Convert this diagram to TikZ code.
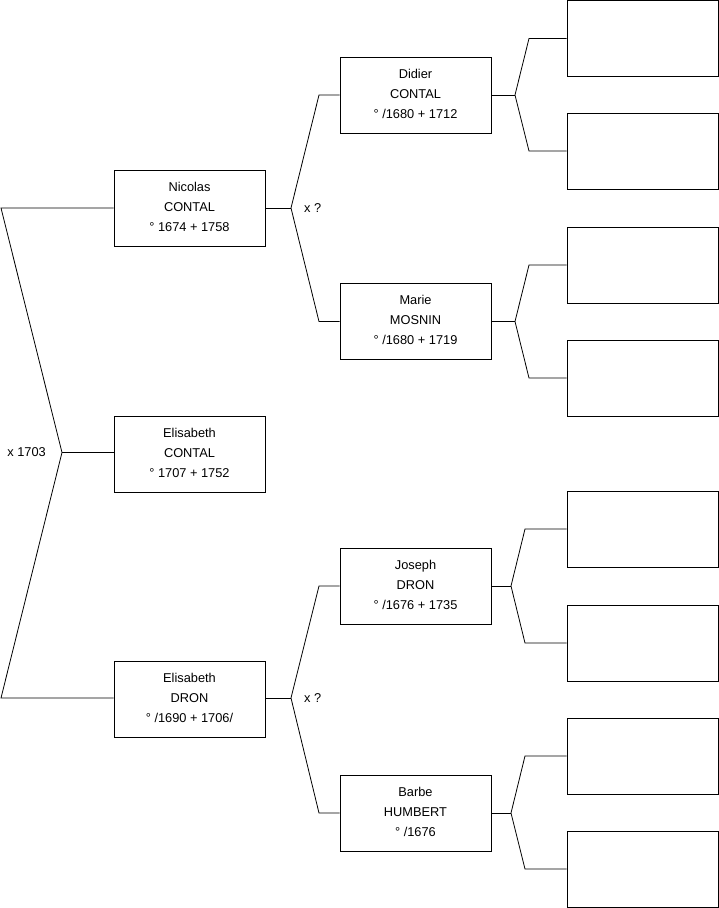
\documentclass[tikz,border=0pt]{standalone}
\usepackage{fontspec}
\setmainfont{Liberation Sans}
\begin{document}
\begin{tikzpicture}[x=1pt,y=-1pt,
  person/.style={draw, line width=0.8pt, minimum width=151pt, minimum height=76pt, inner sep=0pt, align=center, font=\fontsize{12.8}{19.7}\selectfont, execute at end node={\rule[-2.5pt]{0pt}{2.5pt}}},
  emptybox/.style={draw, line width=0.8pt, minimum width=151pt, minimum height=76pt, inner sep=0pt},
  link/.style={line width=0.8pt},
  lbl/.style={font=\fontsize{12.8}{15}\selectfont, inner sep=0pt}]
\useasboundingbox (0,0) rectangle (719,908);

% generation 1 and 2
\node[person] (nicolas) at (189.5,208) {Nicolas\\CONTAL\\° 1674 + 1758};
\node[person] (elisc) at (189.5,454) {Elisabeth\\CONTAL\\° 1707 + 1752};
\node[person] (elisd) at (189.5,699) {Elisabeth\\DRON\\° /1690 + 1706/};

% generation 3
\node[person] (didier) at (415.5,95) {Didier\\CONTAL\\° /1680 + 1712};
\node[person] (marie) at (415.5,321) {Marie\\MOSNIN\\° /1680 + 1719};
\node[person] (joseph) at (415.5,586) {Joseph\\DRON\\° /1676 + 1735};
\node[person] (barbe) at (415.5,813) {Barbe\\HUMBERT\\° /1676};

% generation 4 (empty)
\node[emptybox] (e1) at (642.5,38.5) {};
\node[emptybox] (e2) at (642.5,151) {};
\node[emptybox] (e3) at (642.5,265) {};
\node[emptybox] (e4) at (642.5,378) {};
\node[emptybox] (e5) at (642.5,529) {};
\node[emptybox] (e6) at (642.5,643) {};
\node[emptybox] (e7) at (642.5,756) {};
\node[emptybox] (e8) at (642.5,869) {};

% root bracket
\coordinate (ra) at (1,208);
\coordinate (rm) at (62,452.5);
\coordinate (rb) at (1,698);
\draw[link] (nicolas.west) -- (ra) -- (rm) -- (rb) -- (elisd.west |- rb);
\draw[link] (rm) -- (elisc.west |- rm);
\node[lbl, anchor=east] (m1) at (46,452) {x 1703};

% Nicolas bracket
\coordinate (na) at (291,208);
\coordinate (nt) at (319,95);
\coordinate (nb) at (319,321.5);
\draw[link] (nicolas.east) -- (na);
\draw[link] (didier.west) -- (nt) -- (na) -- (nb) -- (marie.west |- nb);
\node[lbl, anchor=west] (m2) at (304,208) {x ?};

% Elisabeth DRON bracket
\coordinate (da) at (291,698);
\coordinate (dt) at (319,586);
\coordinate (db) at (319,813);
\draw[link] (elisd.east |- da) -- (da);
\draw[link] (joseph.west) -- (dt) -- (da) -- (db) -- (barbe.west);
\node[lbl, anchor=west] (m3) at (304,698) {x ?};

% Didier bracket
\coordinate (ca) at (515,95);
\coordinate (ct) at (529,38.5);
\coordinate (cb) at (529,151);
\draw[link] (didier.east) -- (ca);
\draw[link] (e1.west) -- (ct) -- (ca) -- (cb) -- (e2.west);

% Marie bracket
\coordinate (ma) at (515,321.5);
\coordinate (mt) at (529,265);
\coordinate (mb) at (529,378);
\draw[link] (marie.east |- ma) -- (ma);
\draw[link] (e3.west) -- (mt) -- (ma) -- (mb) -- (e4.west);

% Joseph bracket
\coordinate (ja) at (511,586);
\coordinate (jt) at (525,529);
\coordinate (jb) at (525,643);
\draw[link] (joseph.east) -- (ja);
\draw[link] (e5.west) -- (jt) -- (ja) -- (jb) -- (e6.west);

% Barbe bracket
\coordinate (ba) at (511,813);
\coordinate (bt) at (525,756);
\coordinate (bb) at (525,869);
\draw[link] (barbe.east) -- (ba);
\draw[link] (e7.west) -- (bt) -- (ba) -- (bb) -- (e8.west);
\end{tikzpicture}
\end{document}
